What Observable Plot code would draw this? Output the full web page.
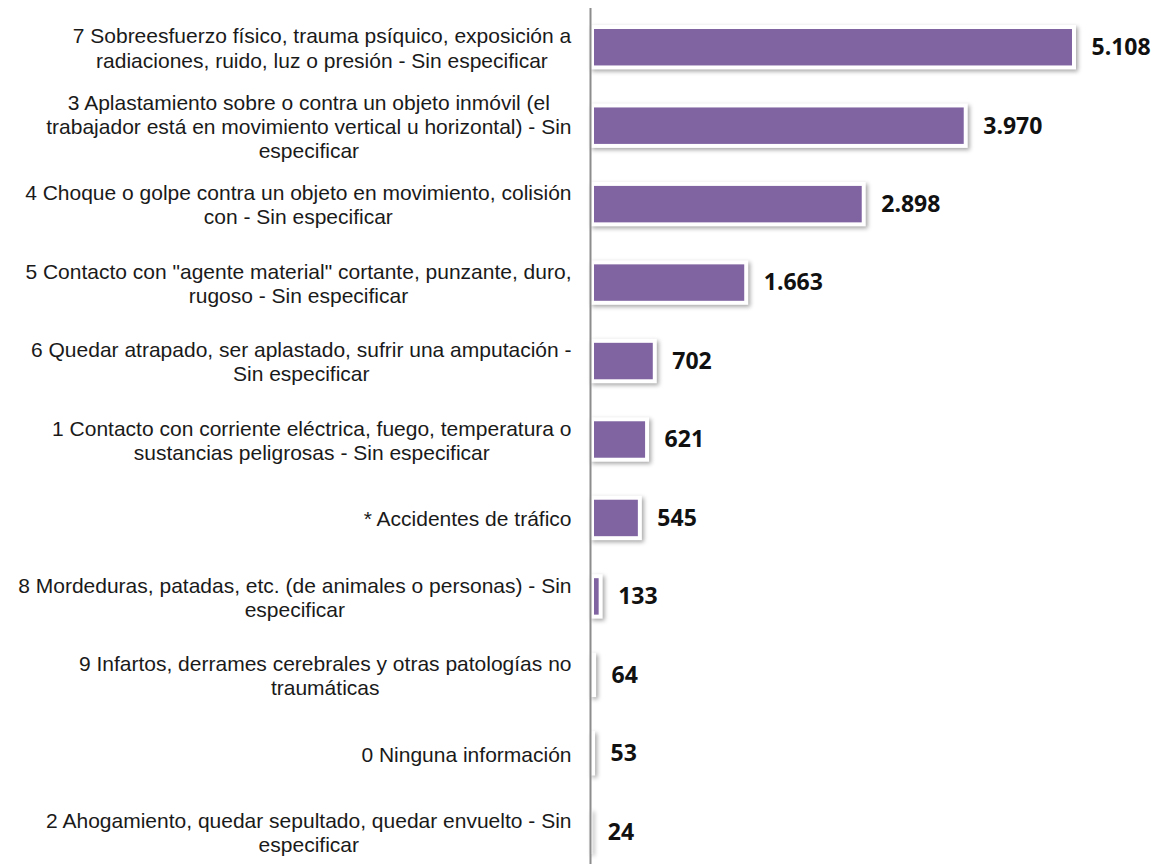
<!DOCTYPE html>
<html>
<head>
<meta charset="utf-8">
<script src="https://cdn.jsdelivr.net/npm/d3@7"></script>
<script src="https://cdn.jsdelivr.net/npm/@observablehq/plot@0.6"></script>
<style>
  html, body { margin: 0; padding: 0; background: #fff; }
  .box rect { filter: drop-shadow(2px 2px 2px rgba(0,0,0,0.35)); }
</style>
</head>
<body>
<div id="chart"></div>
<script>
const categories = [
  "7 Sobreesfuerzo físico, trauma psíquico, exposición a\nradiaciones, ruido, luz o presión - Sin especificar",
  "3 Aplastamiento sobre o contra un objeto inmóvil (el\ntrabajador está en movimiento vertical u horizontal) - Sin\nespecificar",
  "4 Choque o golpe contra un objeto en movimiento, colisión\ncon - Sin especificar",
  "5 Contacto con \"agente material\" cortante, punzante, duro,\nrugoso - Sin especificar",
  "6 Quedar atrapado, ser aplastado, sufrir una amputación -\nSin especificar",
  "1 Contacto con corriente eléctrica, fuego, temperatura o\nsustancias peligrosas - Sin especificar",
  "* Accidentes de tráfico",
  "8 Mordeduras, patadas, etc. (de animales o personas) - Sin\nespecificar",
  "9 Infartos, derrames cerebrales y otras patologías no\ntraumáticas",
  "0 Ninguna información",
  "2 Ahogamiento, quedar sepultado, quedar envuelto - Sin\nespecificar"
];
const values = [5108, 3970, 2898, 1663, 702, 621, 545, 133, 64, 53, 24];

const data = categories.map((c, i) => ({category: c, value: values[i]}));
const fmt = d3.formatLocale({decimal: ",", thousands: ".", grouping: [3], currency: ["", "€"]}).format(",d");

const chart = Plot.plot({
  width: 1160,
  height: 864,
  marginLeft: 590,
  marginRight: 84,
  marginTop: 8,
  marginBottom: 0,
  x: {domain: [0, d3.max(values)], axis: null},
  y: {domain: categories, range: [8, 871], padding: 0, round: false, axis: null},
  marks: [
    Plot.barX(data, {x: "value", y: "category", fill: "white", insetTop: 17, insetBottom: 17, className: "box"}),
    Plot.barX(data, {x: "value", y: "category", fill: "#8064A2", insetTop: 21, insetBottom: 21, insetLeft: 4, insetRight: 4}),
    Plot.ruleX([0], {stroke: "#8c8c8c", strokeWidth: 2}),
    Plot.text(data, {x: 0, y: "category", text: "category", textAnchor: "middle", lineAnchor: "middle", lineHeight: 1.15,
      fontFamily: "Liberation Sans, Arial, sans-serif", fontSize: 21, fill: "#1a1a1a", className: "ylabels"}),
    Plot.text(data, {x: "value", y: "category", text: d => fmt(d.value), textAnchor: "start", dx: 15,
      fontFamily: "Open Sans, sans-serif", fontWeight: "bold", fontSize: 23, fill: "#111"})
  ]
});
document.getElementById("chart").append(chart);

// Right-align each multi-line label block against the axis while keeping its lines centred
const xs = chart.scale("x");
const target = xs.apply(0) - 19;
d3.select(chart).selectAll("g.ylabels text").each(function() {
  const bb = this.getBBox();
  const t = this.getAttribute("transform") || "";
  const m = /translate\(([-\d.]+),\s*([-\d.]+)\)/.exec(t);
  const tx = m ? +m[1] : 0, ty = m ? +m[2] : 0;
  const shift = target - (tx + bb.x + bb.width);
  this.setAttribute("transform", `translate(${tx + shift},${ty})`);
});
</script>
</body>
</html>
